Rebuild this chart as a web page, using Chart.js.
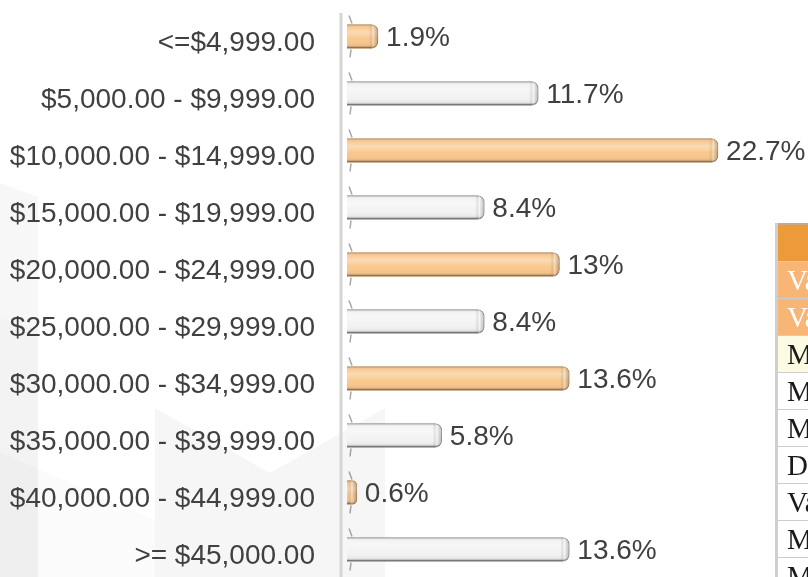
<!DOCTYPE html>
<html lang="en">
<head>
    <meta charset="UTF-8">
    <title>Income distribution</title>
    <style>
        body {
            margin: 0;
            padding: 0;
            width: 808px;
            height: 577px;
            overflow: hidden;
            background: #ffffff;
            position: relative;
        }
        #watermark {
            position: absolute;
            left: 0;
            top: 0;
        }
        .chart-box {
            position: absolute;
            left: 0;
            top: 0;
            width: 808px;
            height: 580px;
        }
        #stats {
            position: absolute;
            left: 775px;
            top: 223px;
            width: 300px;
            border-collapse: collapse;
            font-family: "Liberation Serif", "Times New Roman", serif;
            font-size: 29px;
            border-left: 3px solid #cfcfcf;
        }
        #stats th, #stats td {
            height: 36px;
            padding: 0 0 0 9px;
            border-top: 1px solid #cdcdcd;
            border-bottom: 1px solid #cdcdcd;
            text-align: left;
            white-space: nowrap;
            color: #1a1a1a;
            line-height: 36px;
        }
        #stats th {
            background: #ec9a3a;
            color: #ffffff;
            font-weight: normal;
            text-align: center;
            border-top: 2px solid #c9a882;
        }
        #stats tr.hi td {
            background: #f8b676;
            color: #ffffff;
        }
        #stats tr.cream td {
            background: #fdfae3;
        }
    </style>
</head>
<body>
    <svg id="watermark" width="808" height="577">
        <polygon points="0,183 38,197 38,577 0,577" fill="#000" fill-opacity="0.03"/>
        <polygon points="0,318 38,330 38,577 0,577" fill="#000" fill-opacity="0.015"/>
        <polygon points="0,452 155,520 155,577 0,577" fill="#000" fill-opacity="0.015"/>
        <polygon points="155,408 270,473 385,408 385,577 155,577" fill="#000" fill-opacity="0.035"/>
    </svg>

    <div class="chart-box">
        <canvas id="incomeChart"></canvas>
    </div>

    <table id="stats">
        <tr><th>Estadísticas</th></tr>
        <tr class="hi"><td>Valor mínimo</td></tr>
        <tr class="hi"><td>Valor máximo</td></tr>
        <tr class="cream"><td>Media</td></tr>
        <tr><td>Mediana</td></tr>
        <tr><td>Moda</td></tr>
        <tr><td>Desviación estándar</td></tr>
        <tr><td>Varianza</td></tr>
        <tr><td>Mínimo</td></tr>
        <tr><td>Máximo</td></tr>
    </table>

    <script src="https://cdn.jsdelivr.net/npm/chart.js"></script>
    <script>
        // Income brackets and share of respondents (%)
        const brackets = [
            '<=$4,999.00',
            '$5,000.00 - $9,999.00',
            '$10,000.00 - $14,999.00',
            '$15,000.00 - $19,999.00',
            '$20,000.00 - $24,999.00',
            '$25,000.00 - $29,999.00',
            '$30,000.00 - $34,999.00',
            '$35,000.00 - $39,999.00',
            '$40,000.00 - $44,999.00',
            '>= $45,000.00'
        ];
        const shares = [1.9, 11.7, 22.7, 8.4, 13, 8.4, 13.6, 5.8, 0.6, 13.6];

        const orange = '#f9c88d';
        const white = '#f3f3f3';
        const textColor = '#404040';

        // light axis line just left of the bars
        const axisLine = {
            id: 'axisLine',
            beforeDatasetsDraw(chart) {
                const ctx = chart.ctx;
                const x = chart.chartArea.left - 6;
                ctx.save();
                ctx.strokeStyle = '#d5d5d5';
                ctx.lineWidth = 3;
                ctx.beginPath();
                ctx.moveTo(x, 13);
                ctx.lineTo(x, chart.height);
                ctx.stroke();
                ctx.restore();
            }
        };

        // shading over each bar so they look like rods, plus value labels
        const barShade = {
            id: 'barShade',
            afterDatasetsDraw(chart) {
                const ctx = chart.ctx;
                const meta = chart.getDatasetMeta(0);
                meta.data.forEach((el, i) => {
                    const p = el.getProps(['x', 'y', 'base', 'height'], true);
                    const left = Math.min(p.base, p.x);
                    const right = Math.max(p.base, p.x);
                    const top = p.y - p.height / 2;
                    const h = p.height;
                    const w = right - left;
                    const r = Math.min(7, w / 2);

                    ctx.save();
                    // small base marks above and below the bar
                    ctx.strokeStyle = 'rgba(80,80,80,0.5)';
                    ctx.lineWidth = 1.5;
                    ctx.beginPath();
                    ctx.moveTo(left + 2, top - 9);
                    ctx.lineTo(left + 5, top - 1);
                    ctx.moveTo(left + 4, top + h + 1);
                    ctx.lineTo(left + 3, top + h + 9);
                    ctx.stroke();

                    ctx.beginPath();
                    ctx.roundRect(left, top, w, h, [0, r, r, 0]);
                    ctx.clip();
                    const g = ctx.createLinearGradient(0, top, 0, top + h);
                    g.addColorStop(0, 'rgba(0,0,0,0.25)');
                    g.addColorStop(0.12, 'rgba(255,255,255,0.05)');
                    g.addColorStop(0.32, 'rgba(255,255,255,0.35)');
                    g.addColorStop(0.6, 'rgba(255,255,255,0)');
                    g.addColorStop(0.86, 'rgba(0,0,0,0.04)');
                    g.addColorStop(1, 'rgba(0,0,0,0.3)');
                    ctx.fillStyle = g;
                    ctx.fillRect(left, top, w, h);
                    const cg = ctx.createLinearGradient(right - 9, 0, right, 0);
                    cg.addColorStop(0, 'rgba(0,0,0,0)');
                    cg.addColorStop(0.45, 'rgba(255,255,255,0.3)');
                    cg.addColorStop(1, 'rgba(0,0,0,0.22)');
                    ctx.fillStyle = cg;
                    ctx.fillRect(right - 9, top, 9, h);
                    ctx.restore();

                    ctx.save();
                    ctx.fillStyle = textColor;
                    ctx.font = '28px "Liberation Sans", Arial, sans-serif';
                    ctx.textAlign = 'left';
                    ctx.textBaseline = 'middle';
                    ctx.fillText(shares[i] + '%', right + 8, p.y + 2);
                    ctx.restore();
                });
            }
        };

        function renderChart() {
            const ctx = document.getElementById('incomeChart').getContext('2d');
            new Chart(ctx, {
                type: 'bar',
                data: {
                    labels: brackets,
                    datasets: [{
                        data: shares,
                        backgroundColor: shares.map((v, i) => i % 2 === 0 ? orange : white),
                        borderColor: shares.map((v, i) => i % 2 === 0 ? '#c39260' : '#9c9c9c'),
                        borderWidth: { top: 1, right: 1, bottom: 2, left: 0 },
                        borderRadius: { topLeft: 0, bottomLeft: 0, topRight: 7, bottomRight: 7 },
                        borderSkipped: 'start',
                        barThickness: 24
                    }]
                },
                options: {
                    indexAxis: 'y',
                    responsive: true,
                    maintainAspectRatio: false,
                    animation: false,
                    layout: { padding: { top: 8, bottom: 2, left: 0, right: 0 } },
                    plugins: {
                        legend: { display: false },
                        tooltip: { enabled: false }
                    },
                    scales: {
                        x: {
                            display: false,
                            min: 0,
                            max: 28.2
                        },
                        y: {
                            grid: { display: false, drawTicks: false, tickLength: 0 },
                            border: { display: false },
                            afterFit(scale) {
                                scale.width = 347;
                                scale.paddingTop = 0;
                                scale.paddingBottom = 0;
                            },
                            ticks: {
                                color: textColor,
                                padding: 32,
                                labelOffset: 7,
                                font: { family: '"Liberation Sans", Arial, sans-serif', size: 28 }
                            }
                        }
                    }
                },
                plugins: [axisLine, barShade]
            });
        }

        document.addEventListener('DOMContentLoaded', renderChart);
    </script>
</body>
</html>
